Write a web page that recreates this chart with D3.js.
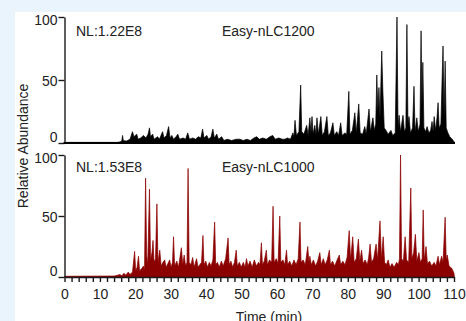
<!DOCTYPE html>
<html>
<head>
<meta charset="utf-8">
<script src="https://cdn.jsdelivr.net/npm/d3@7"></script>
<style>
  body { margin: 0; background: #eaf4fd; }
  svg { display: block; font-family: "Liberation Sans", Arial, sans-serif; }
  .axis text { font-size: 14px; fill: #222; }
  .axis path, .axis line { stroke: #1a1a1a; stroke-width: 1.4; }
</style>
</head>
<body>
<div id="chart"></div>
<script>
// [time (min), relative abundance]
const nlc1200 = [
  [0,0.5],[15,0.5],[15.8,1],[16.2,2],[16.4,6],[16.6,2],[17.5,1.5],[18.5,3],[19.2,9],[19.6,5],[20.4,7],[20.8,3],
  [21.5,4],[22.3,6],[23,4],[23.6,7],[24,12],[24.3,5],[24.9,7],[25.3,3],[26.3,5],[26.8,3],[27.7,9],[28.1,4],
  [28.8,6],[29.4,13],[29.8,4],[30.3,6],[30.8,3],[31.5,5],[32,7],[32.5,3],[33.5,4],[34.2,3],[34.8,8],[35.3,3],
  [36.2,4],[37,3],[37.8,5],[38.5,4],[39,11],[39.4,4],[40.2,6],[40.7,3],[41.4,5],[41.9,11],[42.3,4],[43,7],
  [43.5,3],[44.4,5],[45,2],[46,3],[47.2,2],[48.5,3],[49.5,3],[50.5,2],[51.5,3],[52.5,2],[53.5,4],[54.3,5],
  [55,3],[56,4],[57,3],[58,5],[58.8,6],[59.5,3],[60.5,4],[61.5,3],[62.2,3],[63,4],[63.8,3],[64.5,8],[64.8,5],
  [65.1,18],[65.5,6],[66.2,9],[66.7,46],[67,9],[67.6,7],[68.4,14],[68.8,6],[69.3,20],[69.6,8],[69.9,21],
  [70.2,7],[70.7,14],[71,6],[71.3,20],[71.7,7],[72.4,21],[72.8,6],[73.4,9],[74.1,21],[74.5,6],[75.1,8],
  [75.8,16],[76.2,6],[76.9,9],[77.4,6],[78,16],[78.4,6],[79.2,8],[79.7,7],[80.3,41],[80.6,7],[81.3,10],
  [82,24],[82.4,8],[83.1,31],[83.5,8],[84.2,7],[84.8,13],[85.2,7],[86,27],[86.4,9],[87.1,20],[87.5,10],
  [87.9,15],[88.2,54],[88.5,25],[88.8,44],[89.1,20],[89.6,73],[89.9,42],[90.3,12],[90.8,10],[91.4,7],
  [92.2,10],[92.7,6],[93.4,8],[93.9,100],[94.2,12],[94.5,22],[94.9,9],[95.6,22],[96,9],[96.4,12],[96.7,94],
  [97,15],[97.3,21],[97.7,8],[98.3,12],[98.7,45],[99,9],[99.5,20],[99.9,9],[100.4,15],[100.7,89],[100.95,30],
  [101.2,64],[101.5,12],[102,9],[102.4,13],[102.9,8],[103.4,10],[103.8,17],[104.1,9],[104.4,21],[104.8,10],
  [105.2,20],[105.5,32],[105.8,12],[106.3,15],[106.9,77],[107.2,20],[107.5,65],[107.8,12],[108.3,8],
  [108.8,5],[109.5,3],[110,1]
];

const nlc1000 = [
  [0,0.6],[14,0.8],[15,1.5],[15.6,2],[16.2,1],[16.8,3],[17.3,1.5],[18,4],[18.5,2],[19.2,4],[19.8,21],[20.1,5],
  [20.5,8],[20.9,17],[21.2,5],[21.8,7],[22.3,9],[22.6,6],[22.9,81],[23.2,18],[23.5,10],[24,72],[24.3,14],
  [24.7,20],[25,30],[25.3,12],[25.7,15],[26.1,60],[26.4,12],[26.9,22],[27.3,9],[27.8,12],[28.3,14],[28.7,8],
  [29.2,11],[29.7,14],[30.1,8],[30.5,12],[30.8,33],[31.1,9],[31.7,13],[32.2,8],[32.6,16],[33,24],[33.4,10],
  [33.8,18],[34.2,9],[34.6,12],[34.9,89],[35.2,12],[35.7,10],[36.2,16],[36.6,8],[37.3,15],[37.7,8],[38.2,10],
  [38.7,12],[39.1,34],[39.4,10],[39.9,13],[40.4,8],[40.9,12],[41.4,9],[41.9,14],[42.4,45],[42.7,10],[43.2,12],
  [43.7,8],[44.3,13],[44.8,9],[45.5,15],[46.2,32],[46.5,10],[47,13],[47.5,8],[48,12],[48.5,22],[48.8,9],
  [49.4,12],[49.9,8],[50.5,12],[51,8],[51.4,15],[51.8,9],[52.4,13],[53,8],[53.6,14],[54.2,9],[54.8,12],
  [55.2,10],[55.6,28],[55.9,10],[56.4,13],[57,22],[57.3,10],[57.9,14],[58.5,12],[58.9,58],[59.2,12],
  [59.8,15],[60.3,11],[60.8,50],[61.1,12],[61.7,14],[62.2,10],[62.7,22],[63,10],[63.6,13],[64.2,9],
  [64.8,14],[65.4,10],[66,15],[66.5,45],[66.8,12],[67.4,14],[68,10],[68.7,25],[69,12],[69.3,17],[69.7,10],
  [70.3,14],[70.9,9],[71.5,13],[72.1,20],[72.5,10],[73.1,15],[73.6,10],[74.2,14],[74.8,22],[75.1,10],
  [75.7,13],[76.3,9],[77,14],[77.6,18],[78,10],[78.6,13],[79.2,10],[79.8,16],[80.4,38],[80.8,14],[81.4,33],
  [81.8,12],[82.4,15],[83,31],[83.4,13],[83.9,22],[84.3,11],[84.9,14],[85.5,10],[85.9,16],[86.3,27],
  [86.7,12],[87.3,15],[88,27],[88.4,14],[89.1,46],[89.5,15],[90,33],[90.4,12],[90.9,10],[91.4,14],[91.9,8],
  [92.5,11],[93.1,8],[93.8,12],[94.3,10],[94.6,15],[94.9,100],[95.2,15],[95.7,13],[96.2,33],[96.6,14],
  [97.2,12],[97.8,73],[98.1,15],[98.6,20],[99.1,35],[99.5,13],[100.1,20],[100.5,12],[101,15],[101.3,55],
  [101.6,14],[102.1,25],[102.5,11],[103.1,13],[103.7,9],[104.4,12],[104.9,9],[105.5,17],[105.9,10],
  [106.5,17],[106.9,12],[107.5,49],[107.8,14],[108.1,18],[108.6,9],[109.4,7],[110,3],[110.1,0]
];

const xTicks = d3.range(0, 111, 2);
const yTicks = [0, 50, 100];
const panels = [
  { name: "Easy-nLC1200", nl: "NL:1.22E8", data: nlc1200, color: "#000000" },
  { name: "Easy-nLC1000", nl: "NL:1.53E8", data: nlc1000, color: "#8b0000" }
];

const width = 466, height = 321;

const svg = d3.select("#chart").append("svg")
  .attr("width", width)
  .attr("height", height);

// white card
svg.append("rect")
  .attr("x", 15).attr("y", 12)
  .attr("width", width - 15).attr("height", height - 12)
  .attr("fill", "#ffffff");

const x = d3.scaleLinear().domain([0, 110]).range([64.5, 454]);
const yScales = [
  d3.scaleLinear().domain([0, 100]).range([143, 17]),
  d3.scaleLinear().domain([0, 100]).range([277, 155])
];

panels.forEach((p, i) => {
  const y = yScales[i];

  const area = d3.area()
    .x(d => x(d[0]))
    .y0(y(0))
    .y1(d => y(d[1]));

  svg.append("path")
    .attr("d", area(p.data))
    .attr("fill", p.color)
    .attr("stroke", p.color)
    .attr("stroke-width", 0.7)
    .attr("stroke-linejoin", "miter");

  const yAxis = svg.append("g")
    .attr("class", "axis")
    .attr("transform", `translate(${x(0)},0)`)
    .call(d3.axisLeft(y).tickValues(yTicks).tickSize(6).tickSizeOuter(0).tickPadding(1));
  yAxis.selectAll(".tick text")
    .attr("dy", d => d === 0 ? "-0.1em" : (d === 100 ? "0.5em" : "0.4em"));

  svg.append("text")
    .attr("x", 76).attr("y", y(100) + 19 - i * 2)
    .attr("font-size", 14).attr("fill", "#222")
    .text(p.nl);

  svg.append("text")
    .attr("x", 222).attr("y", y(100) + 19 - i * 2)
    .attr("font-size", 14).attr("fill", "#222")
    .text(p.name);
});

// top panel baseline
svg.append("line")
  .attr("x1", x(0) - 1).attr("x2", x(110) + 1)
  .attr("y1", yScales[0](0)).attr("y2", yScales[0](0))
  .attr("stroke", "#000").attr("stroke-width", 2);

// bottom x axis
const xAxis = svg.append("g")
  .attr("class", "axis")
  .attr("transform", `translate(0,${yScales[1](0)})`)
  .call(d3.axisBottom(x).tickValues(xTicks).tickSize(5).tickSizeOuter(0).tickPadding(7)
    .tickFormat(d => d % 10 === 0 ? d : ""));
xAxis.select(".domain").attr("stroke-width", 1.8);

svg.append("text")
  .attr("x", 269).attr("y", 322)
  .attr("text-anchor", "middle")
  .attr("font-size", 14).attr("fill", "#222")
  .text("Time (min)");

svg.append("text")
  .attr("transform", "translate(28,146) rotate(-90)")
  .attr("text-anchor", "middle")
  .attr("font-size", 14).attr("fill", "#222")
  .text("Relative Abundance");
</script>
</body>
</html>
